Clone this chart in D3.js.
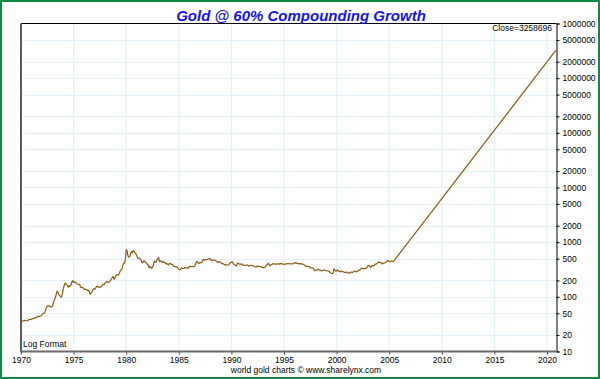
<!DOCTYPE html>
<html>
<head>
<meta charset="utf-8">
<script src="https://cdn.jsdelivr.net/npm/d3@7"></script>
<style>
  body { margin: 0; background: #fff; }
  svg { display: block; }
  text { font-family: "Liberation Sans", Arial, sans-serif; }
</style>
</head>
<body>
<div id="chart"></div>
<script>
// monthly gold closes (1970 .. mid 2005)
const startYear = 1970
const gold70s = [
  36, 36, 36, 36.5, 37, 36.5, 36.5, 36.5, 37, 38.5, 38.5, 38.5,
  39, 40, 40, 40.5, 42, 41.5, 42.5, 44, 43.5, 44, 44.5, 45,
  47.5, 50, 50, 51, 57, 64, 68, 69, 68, 67, 65, 66,
  68, 78, 88, 95, 108, 126, 124, 110, 106, 102, 98, 110,
  134, 156, 174, 178, 168, 160, 150, 160, 157, 164, 188, 198,
  184, 188, 185, 176, 172, 170, 171, 168, 150, 148, 149, 145,
  137, 137, 138, 134, 131, 131, 123, 111, 118, 122, 136, 140,
  138, 142, 155, 156, 154, 148, 150, 152, 156, 165, 170, 168,
  180, 186, 192, 183, 185, 191, 197, 215, 222, 238, 210, 218,
  237, 256, 253, 250, 268, 292, 308, 315, 372, 410, 410, 478
]
const gold80s = [
  735, 690, 560, 530, 540, 630, 670, 640, 705, 680, 640, 610,
  570, 510, 510, 505, 490, 470, 420, 425, 455, 450, 425, 420,
  395, 385, 340, 360, 345, 330, 350, 380, 450, 440, 430, 470,
  505, 520, 440, 450, 455, 430, 440, 432, 428, 410, 398, 402,
  385, 400, 410, 396, 392, 392, 362, 362, 355, 354, 354, 336,
  320, 312, 318, 340, 330, 330, 330, 345, 338, 340, 340, 336,
  360, 355, 362, 355, 357, 358, 363, 392, 435, 440, 415, 408,
  425, 418, 425, 458, 480, 470, 470, 480, 480, 485, 488, 508,
  498, 462, 464, 472, 470, 470, 456, 450, 432, 424, 438, 437,
  422, 405, 408, 400, 388, 384, 392, 382, 378, 382, 412, 428
]
const gold90s = [
  428, 436, 410, 390, 385, 368, 378, 412, 406, 398, 398, 394,
  400, 380, 380, 374, 373, 382, 384, 372, 364, 374, 376, 377,
  370, 370, 360, 353, 352, 356, 368, 358, 360, 359, 350, 349,
  343, 343, 345, 357, 383, 388, 410, 396, 370, 380, 390, 400,
  404, 398, 400, 394, 398, 402, 402, 396, 408, 406, 400, 396,
  396, 392, 398, 408, 402, 404, 403, 400, 400, 400, 403, 404,
  418, 423, 413, 410, 409, 402, 400, 404, 400, 398, 394, 385,
  370, 362, 367, 359, 359, 356, 338, 338, 337, 339, 319, 302,
  302, 310, 309, 321, 312, 305, 306, 296, 302, 309, 307, 304,
  300, 300, 298, 294, 289, 273, 267, 268, 276, 325, 306, 295
]
const gold00s = [
  296, 313, 298, 292, 287, 297, 294, 286, 285, 282, 278, 284,
  277, 273, 274, 271, 284, 282, 280, 285, 295, 295, 288, 287,
  294, 309, 307, 315, 328, 335, 327, 324, 333, 331, 333, 348,
  372, 375, 355, 342, 370, 372, 366, 376, 396, 396, 406, 425,
  432, 423, 424, 422, 400, 409, 415, 418, 424, 438, 458, 461,
  442, 441, 453, 448, 440, 449
]

// 60% compounding projection (straight on the log scale)
const projYears = [2005.5, 2010, 2015, 2020.85]
const projValues = [470, 6280, 112000, 3258696]

const yearTicks = [1970, 1975, 1980, 1985, 1990, 1995, 2000, 2005, 2010, 2015, 2020]
const valueTicks = [10, 20, 50, 100, 200, 500, 1000, 2000, 5000, 10000, 20000, 50000,
  100000, 200000, 500000, 1000000, 2000000, 5000000, 10000000]
const valueLabels = ['10', '20', '50', '100', '200', '500', '1000', '2000', '5000', '10000',
  '20000', '50000', '100000', '200000', '500000', '1000000', '2000000', '5000000', '1000000']

const width = 600
const height = 379
const plotL = 21, plotR = 556.5, plotT = 23.5, plotB = 351.5

const svg = d3.select('#chart').append('svg')
  .attr('width', width).attr('height', height)

svg.append('rect').attr('width', width).attr('height', height).attr('fill', '#fff')

const x = d3.scaleLinear().domain([1970, 2020.9]).range([plotL, plotR])
const y = d3.scaleLog().domain([10, 10000000]).range([plotB, plotT])

const hist = gold70s.concat(gold80s, gold90s, gold00s)
  .map((v, i) => ({ t: startYear + i / 12, v: v }))
const proj = projYears.map((t, i) => ({ t: t, v: projValues[i] }))

// grid
svg.append('g').selectAll('line').data(yearTicks.slice(1)).enter().append('line')
  .attr('x1', d => x(d)).attr('x2', d => x(d))
  .attr('y1', plotT).attr('y2', plotB)
  .attr('stroke', '#e2f1fb').attr('stroke-width', 1.2)
svg.append('g').selectAll('line').data(valueTicks.slice(1, -1)).enter().append('line')
  .attr('x1', plotL).attr('x2', plotR)
  .attr('y1', d => Math.round(y(d)) + 0.5).attr('y2', d => Math.round(y(d)) + 0.5)
  .attr('stroke', '#e2f1fb').attr('stroke-width', 1.2)

// price line
const line = d3.line().x(d => x(d.t)).y(d => y(d.v))
svg.append('path')
  .datum(hist.concat(proj))
  .attr('d', line)
  .attr('fill', 'none')
  .attr('stroke', '#8a5a12')
  .attr('stroke-width', 1.2)
  .attr('stroke-linejoin', 'round')

// frame of plot
svg.append('line').attr('x1', plotL).attr('x2', plotR).attr('y1', plotT).attr('y2', plotT)
  .attr('stroke', '#000').attr('stroke-width', 1)
svg.append('line').attr('x1', plotL).attr('x2', plotL).attr('y1', plotT).attr('y2', plotB)
  .attr('stroke', '#5a5a5a').attr('stroke-width', 2)

// right value axis
const yAxis = d3.axisRight(y).tickValues(valueTicks)
  .tickFormat((d, i) => valueLabels[i]).tickSize(3).tickPadding(3)
const ya = svg.append('g').attr('transform', `translate(${plotR},0)`).call(yAxis)
ya.select('.domain').attr('stroke', '#000')
ya.selectAll('text').attr('font-size', '8.5px').attr('fill', '#000')
  .attr('font-family', '"Liberation Sans", Arial, sans-serif')

// bottom year axis
const xAxis = d3.axisBottom(x).tickValues(yearTicks).tickFormat(d3.format('d'))
  .tickSize(3).tickPadding(2)
const xa = svg.append('g').attr('transform', `translate(0,${plotB})`).call(xAxis)
xa.select('.domain').remove()
xa.selectAll('.tick line').attr('stroke', '#444')
xa.selectAll('text').attr('font-size', '8.5px').attr('fill', '#000')
  .attr('font-family', '"Liberation Sans", Arial, sans-serif')
svg.append('line').attr('x1', plotL - 1).attr('x2', plotR).attr('y1', plotB).attr('y2', plotB)
  .attr('stroke', '#6a6a6a').attr('stroke-width', 2.2)

// texts
svg.append('text').attr('x', 301).attr('y', 20.5)
  .attr('text-anchor', 'middle')
  .attr('font-size', '15px').attr('font-weight', 'bold').attr('font-style', 'italic')
  .attr('fill', '#1414f0')
  .text('Gold @ 60% Compounding Growth')

svg.append('text').attr('x', 552).attr('y', 31)
  .attr('text-anchor', 'end').attr('font-size', '8.5px').attr('fill', '#000')
  .text('Close=' + projValues[projValues.length - 1])

svg.append('text').attr('x', 23).attr('y', 347)
  .attr('font-size', '8.5px').attr('fill', '#000')
  .text('Log Format')

svg.append('text').attr('x', 306).attr('y', 372.5)
  .attr('text-anchor', 'middle').attr('font-size', '8.5px').attr('fill', '#000')
  .text('world gold charts © www.sharelynx.com')

// outer green border
svg.append('rect').attr('x', 1).attr('y', 1).attr('width', width - 2).attr('height', height - 2)
  .attr('fill', 'none').attr('stroke', '#0f8a45').attr('stroke-width', 2)
</script>
</body>
</html>
